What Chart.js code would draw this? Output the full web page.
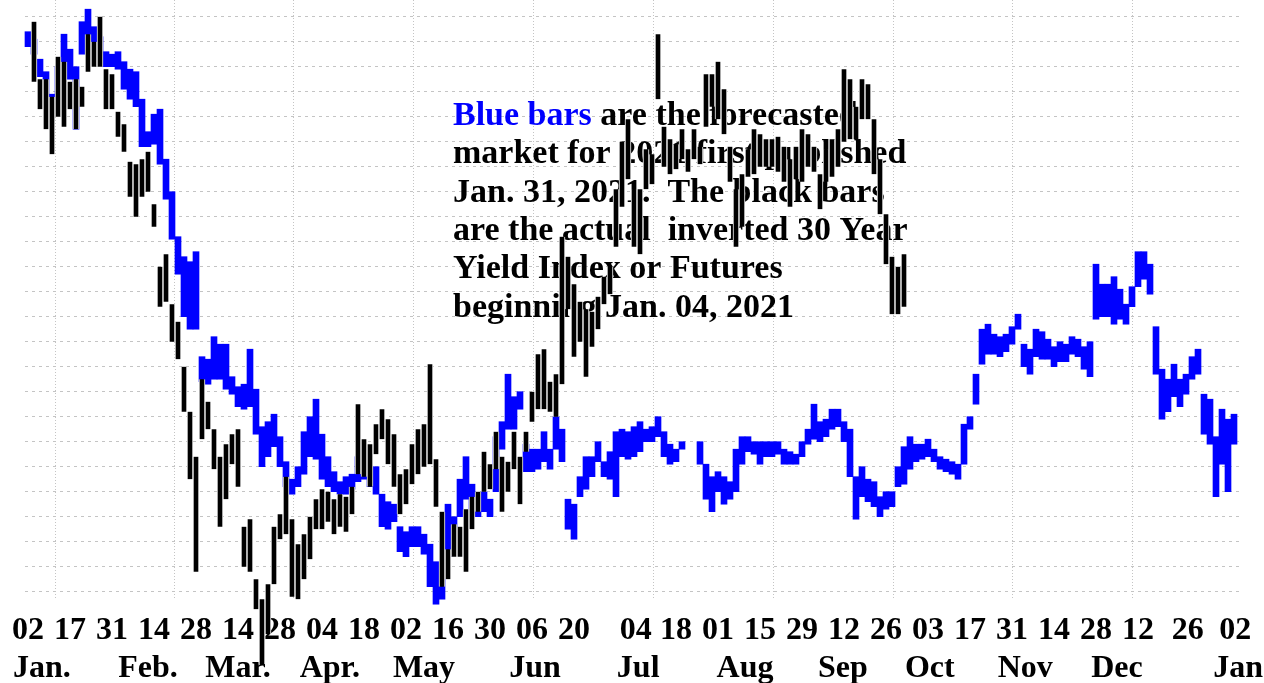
<!DOCTYPE html>
<html>
<head>
<meta charset="utf-8">
<script src="https://cdn.jsdelivr.net/npm/chart.js@4.4.0/dist/chart.umd.min.js"></script>
<style>
  html, body { margin: 0; padding: 0; background: #fff; }
  canvas { display: block; }
</style>
</head>
<body>
<canvas id="chart" width="1264" height="683"></canvas>
<script>
// forecast (blue) bars, one per trading-day slot: low / high of the index
const forecastLow = [
  21.8, 21.5, 20.6, 19.9, 19.2, 19.8, 20.8, 20.5, 18.5, 21.5,
  22.2, 21.9, 21.6, 21.0, 21.0, 20.9, 20.1, 19.7, 19.4, 17.8,
  17.8, 17.9, 17.1, 15.7, 14.1, 12.7, 11.0, 10.5, 10.5, 8.4,
  8.3, 8.5, 8.5, 8.1, 7.9, 7.4, 7.3, 7.4, 6.3, 5.0,
  5.4, 5.8, 5.0, 4.2, 3.9, 4.2, 4.7, 5.4, 5.3, 4.5,
  4.2, 4.0, 3.9, 3.9, 4.1, 4.4, 4.5, 4.2, 3.9, 2.6,
  2.5, 2.8, 1.6, 1.4, 1.8, 1.8, 1.5, 0.2, -0.5, -0.3,
  1.4, 1.6, 3.0, 3.7, 3.3, 3.0, 3.2, 3.0, 4.0, 5.7,
  6.5, 6.5, 7.3, 4.8, 4.8, 4.9, 5.2, 4.9, 5.7, 5.2,
  2.5, 2.1, 3.8, 4.1, 4.6, 5.2, 4.6, 4.5, 3.8, 5.4,
  5.3, 5.4, 5.6, 6.0, 6.0, 6.2, 5.4, 5.1, 5.2, 5.7,
  null, null, 5.1, 3.7, 3.2, 4.0, 3.5, 3.7, 4.0, 5.1,
  5.6, 5.5, 5.1, 5.4, 5.4, 5.5, 5.1, 5.1, 5.1, 5.4,
  5.9, 6.1, 6.0, 6.2, 6.5, 6.6, 6.0, 4.6, 2.9, 3.8,
  3.6, 3.4, 3.0, 3.3, 3.4, 4.2, 4.3, 4.9, 5.2, 5.3,
  5.4, 5.2, 4.9, 4.8, 4.7, 4.5, 5.1, 6.5, 7.5, 9.1,
  9.5, 9.5, 9.4, 9.6, 9.9, 10.5, 9.0, 8.7, 9.4, 9.3,
  9.3, 9.0, 9.2, 9.2, 9.5, 9.4, 8.9, 8.6, 10.9, 11.0,
  11.0, 10.7, 10.9, 10.7, 11.4, 12.2, 12.5, 11.9, 8.7, 6.9,
  7.2, 7.8, 7.4, 7.9, 8.5, 8.7, 6.3, 5.9, 3.8, 5.1,
  4.0, 5.9
];
const forecastHigh = [
  22.4, 22.1, 21.3, 20.8, 19.9, 21.0, 22.3, 21.7, 21.0, 22.8,
  23.3, 22.6, 22.2, 21.6, 21.5, 21.6, 21.2, 20.9, 20.8, 19.7,
  18.4, 19.1, 19.3, 17.3, 16.0, 14.2, 13.4, 13.2, 13.6, 9.4,
  9.3, 10.2, 9.9, 9.9, 8.6, 8.2, 8.3, 9.7, 8.1, 6.6,
  6.8, 7.1, 6.2, 5.2, 4.5, 5.0, 6.4, 7.0, 7.7, 6.3,
  5.4, 4.8, 4.4, 4.6, 4.7, 5.4, 5.2, 5.0, 5.0, 3.9,
  3.6, 3.5, 2.6, 2.4, 2.6, 2.6, 2.3, 1.9, 1.2, 1.0,
  3.5, 3.0, 4.5, 5.4, 4.3, 3.8, 4.0, 3.7, 6.2, 6.8,
  8.7, 7.8, 8.0, 5.9, 5.7, 5.7, 6.4, 5.7, 7.0, 6.5,
  3.7, 3.5, 4.6, 5.4, 5.4, 6.0, 5.2, 5.6, 6.4, 6.5,
  6.4, 6.6, 6.8, 6.5, 6.6, 7.0, 6.4, 5.9, 5.7, 6.0,
  null, null, 6.0, 5.1, 4.6, 4.8, 4.6, 4.4, 5.7, 6.2,
  6.2, 6.0, 6.0, 6.0, 6.0, 6.0, 5.7, 5.6, 5.5, 6.0,
  6.5, 7.5, 6.8, 6.9, 7.3, 7.3, 6.8, 6.5, 4.6, 5.0,
  4.5, 4.4, 3.8, 4.0, 4.0, 5.0, 5.8, 6.2, 5.9, 5.9,
  6.1, 5.7, 5.4, 5.3, 5.2, 5.1, 6.7, 7.0, 8.7, 10.5,
  10.7, 10.3, 10.2, 10.3, 10.6, 11.1, 9.9, 9.7, 10.5, 10.4,
  10.1, 9.8, 10.0, 9.9, 10.2, 10.1, 9.8, 10.0, 13.1, 12.3,
  12.3, 12.6, 12.1, 11.5, 12.2, 13.6, 13.6, 13.1, 10.6, 8.9,
  8.5, 9.1, 8.5, 8.7, 9.4, 9.7, 7.9, 7.7, 6.2, 7.3,
  6.9, 7.1
];

// actual (black) bars, first one sits on slot 1
const actualStart = 1;
const actualLow = [
  20.4, 19.3, 18.5, 17.5, 19.0, 18.6, 19.3, 18.5, 19.4, 20.8,
  21.0, 21.0, 19.3, 19.3, 18.2, 17.6, 15.8, 15.0, 15.8, 16.0,
  14.6, 11.4, 11.6, 10.0, 9.3, 7.2, 4.5, 0.8, 6.1, 6.5,
  4.9, 2.6, 3.7, 5.1, 4.2, 1.0, 0.8, -0.7, -2.9, -1.7,
  0.3, 2.1, 2.3, -0.2, -0.3, 0.5, 1.3, 2.5, 2.5, 2.8,
  2.3, 2.6, 2.4, 3.1, 4.7, 4.6, 4.2, 5.5, 6.1, 5.1,
  4.2, 3.1, 3.5, 4.3, 4.7, 5.0, 5.1, 3.4, 0.2, 0.5,
  1.4, 1.4, 0.8, 2.5, 3.2, 4.0, 4.1, 4.9, 3.2, 4.0,
  4.9, 3.5, 5.6, 6.8, 7.3, 7.3, 7.2, 7.0, 8.3, 11.3,
  9.4, 10.0, 8.6, 9.8, 10.5, 11.5, 11.9, 13.8, 15.4, 16.5,
  13.8, 13.5, 16.1, 16.3, 19.7, 17.0, 16.7, 16.9, 17.3, 16.8,
  17.3, 17.1, 18.6, 19.4, 18.9, 18.3, 16.4, 13.8, 14.6, 16.6,
  16.7, 17.0, 17.0, 17.0, 16.8, 16.4, 15.4, 16.5, 16.4, 17.0,
  16.8, 15.3, 16.4, 16.6, 17.0, 18.0, 18.1, 18.1, 18.9, 18.9,
  16.7, 15.1, 13.1, 11.1, 11.1, 11.4
];
const actualHigh = [
  22.8, 20.5, 20.5, 19.8, 21.4, 21.2, 20.4, 20.5, 20.2, 22.3,
  22.0, 23.0, 20.9, 20.7, 19.2, 18.7, 17.2, 17.1, 17.3, 17.6,
  15.5, 13.0, 13.5, 11.5, 10.8, 9.0, 7.2, 5.4, 8.5, 7.6,
  6.5, 5.4, 5.9, 6.3, 6.5, 2.6, 2.9, 0.5, -0.3, 0.3,
  2.6, 3.1, 4.6, 2.9, 1.9, 2.3, 3.0, 3.7, 4.1, 4.0,
  3.7, 3.9, 3.8, 4.2, 7.5, 6.1, 5.9, 6.7, 7.3, 6.9,
  6.3, 4.7, 4.9, 5.9, 6.5, 6.7, 9.1, 5.3, 3.2, 1.7,
  2.7, 2.6, 3.3, 3.8, 4.0, 5.6, 5.1, 6.4, 5.4, 5.2,
  6.4, 5.4, 6.4, 8.0, 9.5, 9.7, 8.4, 8.7, 14.2, 13.4,
  12.3, 11.6, 11.3, 11.2, 11.8, 12.6, 13.0, 16.1, 18.0, 18.9,
  16.1, 16.1, 17.7, 17.5, 22.3, 18.6, 18.1, 17.9, 18.5, 17.7,
  18.5, 17.8, 20.7, 20.7, 21.2, 20.1, 17.8, 16.1, 16.7, 17.7,
  18.5, 18.3, 18.1, 18.1, 18.2, 17.8, 17.3, 17.8, 18.5, 18.3,
  17.8, 16.7, 17.7, 18.1, 18.5, 20.9, 20.5, 19.4, 20.5, 20.3,
  18.9, 17.3, 15.1, 13.4, 13.0, 13.5
];

// x axis labels (positions in trading-day slots)
const dayTickPos = [0, 7, 14, 21, 28, 35, 42, 49, 56, 63, 70, 77, 84, 91,
  101.3, 108, 115, 122, 129, 136, 143, 150, 157, 164, 171, 178, 185, 193.3, 201.2];
const dayLabels = ['02', '17', '31', '14', '28', '14', '28', '04', '18', '02', '16', '30', '06', '20',
  '04', '18', '01', '15', '29', '12', '26', '03', '17', '31', '14', '28', '12', '26', '02'];
const monthTickPos = [2.3, 20, 35, 50.3, 66, 84.5, 101.7, 119.5, 135.8, 150.3, 166.2, 181.5, 201.7];
const monthLabels = ['Jan.', 'Feb.', 'Mar.', 'Apr.', 'May', 'Jun', 'Jul', 'Aug', 'Sep', 'Oct', 'Nov', 'Dec', 'Jan'];
const vGridPos = [14.5, 34.2, 54.2, 74.2, 94.2, 114.3, 134.3, 154.2, 174, 194.2];
const hGridLevels = [0, 1, 2, 3, 4, 5, 6, 7, 8, 9, 10, 11, 12, 13, 14, 15, 16, 17, 18, 19, 20, 21, 22, 23];

const noteLines = [
  ['Blue bars', ' are the forecasted'],
  ['', 'market for 2021 first published'],
  ['', 'Jan. 31, 2021.  The black bars'],
  ['', 'are the actual  inverted 30 Year'],
  ['', 'Yield Index or Futures'],
  ['', 'beginning Jan. 04, 2021']
];

const X_MIN = -0.5, X_MAX = 202;
const SERIF = '"Liberation Serif", "Times New Roman", serif';

// the text block sits under the bars
const notePlugin = {
  id: 'note',
  beforeDatasetsDraw(chart) {
    const ctx = chart.ctx;
    ctx.save();
    ctx.font = 'bold 34px ' + SERIF;
    ctx.textBaseline = 'alphabetic';
    noteLines.forEach((parts, i) => {
      let x = 453;
      const y = 125 + i * 38.3;
      if (parts[0]) {
        ctx.fillStyle = '#0000ff';
        ctx.fillText(parts[0], x, y);
        x += ctx.measureText(parts[0]).width;
      }
      ctx.fillStyle = '#000';
      ctx.fillText(parts[1], x, y);
    });
    ctx.restore();
  }
};

function fixedTicks(values) {
  return scale => { scale.ticks = values.map(v => ({ value: v })); };
}

const forecastData = [];
forecastLow.forEach((lo, i) => {
  if (lo !== null) forecastData.push({ x: i, y: [lo, forecastHigh[i]] });
});
const actualData = actualLow.map((lo, j) => ({ x: j + actualStart, y: [lo, actualHigh[j]] }));

const ctx = document.getElementById('chart').getContext('2d');
new Chart(ctx, {
  type: 'bar',
  data: {
    datasets: [
      {
        label: 'Actual',
        data: actualData,
        backgroundColor: '#000',
        borderColor: '#fff',
        borderWidth: { left: 1, right: 1, top: 0, bottom: 0 },
        borderSkipped: false,
        barThickness: 6,
        grouped: false,
        clip: false,
        order: 1
      },
      {
        label: 'Forecast',
        data: forecastData,
        backgroundColor: '#0000ff',
        borderWidth: 0,
        barThickness: 6,
        grouped: false,
        clip: false,
        order: 2
      }
    ]
  },
  options: {
    responsive: false,
    animation: false,
    devicePixelRatio: 1,
    layout: { padding: { left: 25, right: 24, top: 0, bottom: 0 } },
    plugins: {
      legend: { display: false },
      tooltip: { enabled: false }
    },
    scales: {
      x: {
        type: 'linear',
        position: 'bottom',
        weight: 0,
        min: X_MIN,
        max: X_MAX,
        offset: false,
        afterBuildTicks: fixedTicks(dayTickPos),
        afterFit: s => { s.height = 44; },
        // tick marks are hidden, their length just pushes the labels down
        grid: { display: false, drawTicks: true, tickLength: 12 },
        border: { display: false },
        ticks: {
          autoSkip: false,
          maxRotation: 0,
          padding: 0,
          color: '#000',
          font: { family: SERIF, size: 32, weight: 'bold' },
          callback: (v, i) => dayLabels[i]
        }
      },
      x2: {
        type: 'linear',
        position: 'bottom',
        weight: 1,
        min: X_MIN,
        max: X_MAX,
        offset: false,
        afterBuildTicks: fixedTicks(monthTickPos),
        afterFit: s => { s.height = 39; },
        grid: { display: false, drawTicks: true, tickLength: 6 },
        border: { display: false },
        ticks: {
          autoSkip: false,
          maxRotation: 0,
          padding: 0,
          color: '#000',
          font: { family: SERIF, size: 32, weight: 'bold' },
          callback: (v, i) => monthLabels[i]
        }
      },
      xg: {
        type: 'linear',
        position: 'top',
        min: X_MIN,
        max: X_MAX,
        offset: false,
        afterBuildTicks: fixedTicks(vGridPos),
        afterFit: s => { s.height = 0; },
        grid: { color: '#c4c4c4', lineWidth: 1, drawTicks: false },
        border: { display: false, dash: [1, 2] },
        ticks: { display: false, padding: 0 }
      },
      y: {
        type: 'linear',
        min: -0.332,
        max: 23.668,
        afterBuildTicks: fixedTicks(hGridLevels),
        afterFit: s => { s.width = 0; },
        grid: { color: '#c4c4c4', lineWidth: 1, drawTicks: false },
        border: { display: false, dash: [3, 4] },
        ticks: { display: false, padding: 0 }
      }
    }
  },
  plugins: [notePlugin]
});
</script>
</body>
</html>
